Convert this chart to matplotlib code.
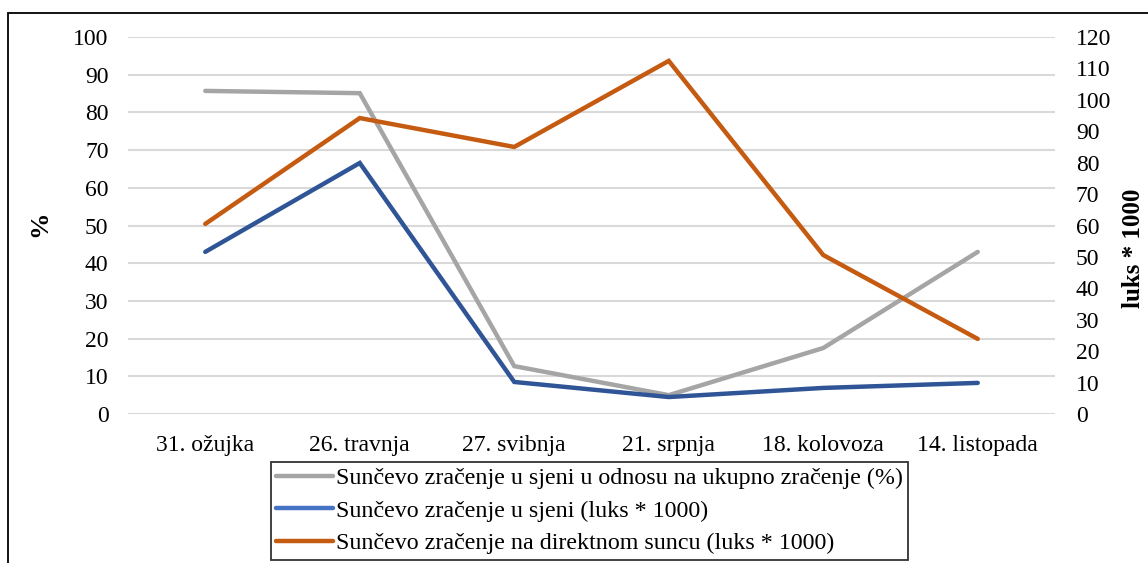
import matplotlib
matplotlib.use("Agg")
import matplotlib.pyplot as plt
from matplotlib.lines import Line2D
from matplotlib.patches import Rectangle

categories = ["31. ožujka", "26. travnja", "27. svibnja", "21. srpnja", "18. kolovoza", "14. listopada"]
shade_pct = [85.7, 85.1, 12.7, 5.0, 17.5, 43.0]
shade_lux = [51.6, 79.9, 10.2, 5.4, 8.3, 9.9]
direct_lux = [60.5, 94.2, 85.0, 112.4, 50.6, 23.9]
left_ticks = list(range(0, 101, 10))
right_ticks = list(range(0, 121, 10))

labels = ["Sunčevo zračenje u sjeni u odnosu na ukupno zračenje (%)",
          "Sunčevo zračenje u sjeni (luks * 1000)",
          "Sunčevo zračenje na direktnom suncu (luks * 1000)"]

plt.rcParams['font.family'] = ['Liberation Serif', 'DejaVu Serif']
fs = 17
W, H = 1148, 563
fig = plt.figure(figsize=(W/100, H/100), dpi=100)

# outer border
fig.patches.append(Rectangle((8/W, -0.1), 2, 1 - 13/H + 0.1, transform=fig.transFigure,
                             fill=False, edgecolor='black', lw=1.3))

ax = fig.add_axes([128/W, 1 - 414/H, (1055-128)/W, (414-37)/H])
ax2 = ax.twinx()
x = list(range(len(categories)))

ax.set_xlim(-0.5, len(categories) - 0.5)
ax.set_ylim(0, 100)
ax2.set_ylim(0, 120)
ax.set_yticks(left_ticks)
ax2.set_yticks(right_ticks)
ax.set_xticks(x)
ax.set_xticklabels(categories, fontsize=fs)
ax.tick_params(axis='y', labelsize=fs, length=0, pad=14)
ax2.tick_params(axis='y', labelsize=fs, length=0, pad=15)
ax.tick_params(axis='x', length=0, pad=15)
for a in (ax, ax2):
    for s in a.spines.values():
        s.set_visible(False)
ax.grid(axis='y', color='#D9D9D9', lw=1.5)
ax.set_axisbelow(True)

lw = 3.2
ax.plot(x, shade_pct, color='#A5A5A5', lw=lw, solid_capstyle='round', solid_joinstyle='miter', zorder=3)
ax2.plot(x, shade_lux, color='#2F5597', lw=lw, solid_capstyle='round', solid_joinstyle='miter', zorder=3)
ax2.plot(x, direct_lux, color='#C55A11', lw=lw, solid_capstyle='round', solid_joinstyle='miter', zorder=3)

fig.text(40/W, 1 - 224/H, "%", rotation=90, fontsize=19, fontweight='bold', ha='center', va='center')
fig.text(1134/W, 1 - 248/H, "luks * 1000", rotation=90, fontsize=18, fontweight='bold', ha='center', va='center')

handles = [Line2D([], [], color='#A5A5A5', lw=lw, solid_capstyle='round'),
           Line2D([], [], color='#4472C4', lw=lw, solid_capstyle='round'),
           Line2D([], [], color='#C55A11', lw=lw, solid_capstyle='round')]
leg = fig.legend(handles, labels, loc='upper left', bbox_to_anchor=(271/W, 1 - 462/H),
                 fontsize=17.3, frameon=True, fancybox=False, edgecolor='black',
                 handlelength=2.35, handletextpad=0.12, borderpad=0.22, labelspacing=0.45,
                 borderaxespad=0)
leg.get_frame().set_linewidth(1.3)

fig.savefig("out.png", dpi=100)
